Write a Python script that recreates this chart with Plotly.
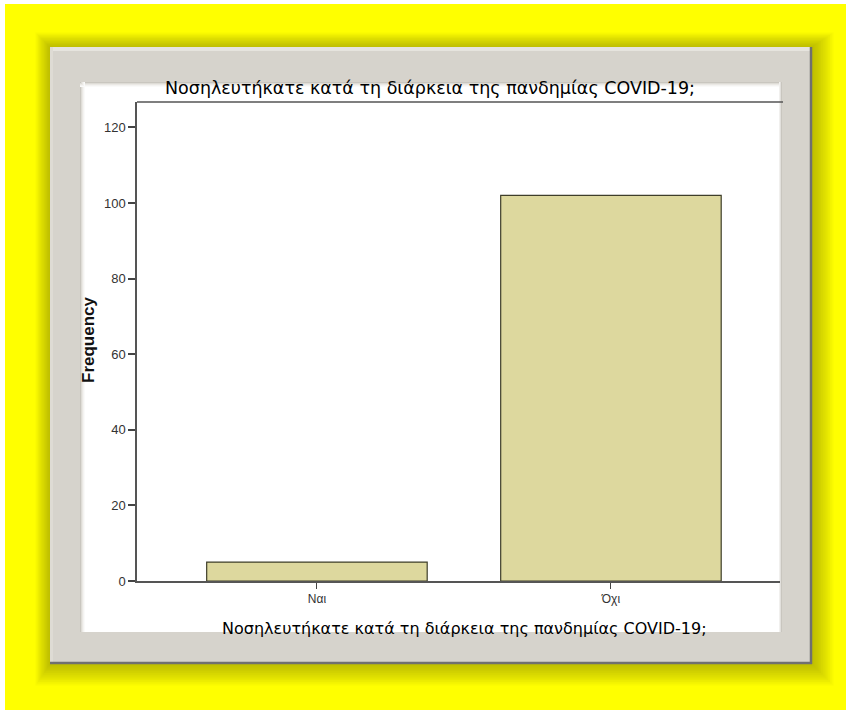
import plotly.graph_objects as go

categories = ["Ναι", "Όχι"]
frequency = [5, 102]
y_ticks = [0, 20, 40, 60, 80, 100, 120]
title_text = "Νοσηλευτήκατε κατά τη διάρκεια της πανδημίας COVID-19;"

W, H = 846, 710
L, R, T, B = 137, 780, 102, 581  # plot area box in page pixels


def px(x):
    return (x - L) / (R - L)


def py(y):
    return (B - y) / (B - T)


def rect(x0, y0, x1, y1, fill, layer="below"):
    return dict(type="rect", xref="paper", yref="paper",
                x0=px(x0), x1=px(x1), y0=py(y1), y1=py(y0),
                fillcolor=fill, layer=layer, line=dict(width=0))


def hline(x0, x1, y, color, w=1, layer="below"):
    return dict(type="line", xref="paper", yref="paper", x0=px(x0), x1=px(x1),
                y0=py(y), y1=py(y), line=dict(color=color, width=w), layer=layer)


def vline(x, y0, y1, color, w=1, layer="below"):
    return dict(type="line", xref="paper", yref="paper", x0=px(x), x1=px(x),
                y0=py(y0), y1=py(y1), line=dict(color=color, width=w), layer=layer)


shapes = []
# yellow page (thin white edge at left/top as in the reference)
shapes.append(rect(5, 4, 860, 720, "#ffff00"))
# soft shadow around the frame
for i in range(12, 0, -1):
    shapes.append(rect(50 - i * 1.2, 47 - i * 1.2, 812 + i * 1.8, 664 + i * 1.8,
                       "rgba(110,110,0,0.04)"))
# frame
shapes.append(rect(50, 47, 812, 664, "#d6d3cc"))
shapes.append(rect(50, 47, 812, 51, "#e6e4de"))
shapes.append(rect(50, 47, 53, 664, "#dedbd4"))
shapes.append(vline(811, 47, 664, "#707070", 2.5))
shapes.append(hline(50, 812, 663, "#707070", 2.5))
# inner white panel
shapes.append(rect(80, 82, 782, 632, "#ffffff"))
for i, c in enumerate(["#c9c6bf", "#dedcd6", "#ebe9e5", "#f4f3f1", "#fafaf9"]):
    shapes.append(rect(80 + i, 82, 81 + i, 632, c))
    shapes.append(rect(80, 82 + i, 782, 83 + i, c))
for i, c in enumerate(["#c9c6bf", "#e2e0dc", "#f1f0ee"]):
    shapes.append(rect(781 - i, 82, 782 - i, 632, c))
# top frame line of plot area
shapes.append(hline(L, 783, T, "#555555", 1.5, layer="above"))

fig = go.Figure()
fig.add_trace(go.Bar(
    x=categories, y=frequency, width=0.75,
    marker=dict(color="#ddd89e", line=dict(color="#3e3e2a", width=1.2)),
    hoverinfo="x+y",
))

font_family = "Liberation Sans, Arial, sans-serif"
title_family = "DejaVu Sans, Verdana, sans-serif"

annotations = [
    dict(text=title_text, xref="paper", yref="paper", x=px(430), y=py(88),
         xanchor="center", yanchor="middle", showarrow=False,
         font=dict(family=title_family, size=17.5, color="#000000")),
    dict(text=title_text, xref="paper", yref="paper", x=px(464.5), y=py(628),
         xanchor="center", yanchor="middle", showarrow=False,
         font=dict(family=title_family, size=16, color="#000000")),
    dict(text="<b>Frequency</b>", xref="paper", yref="paper", x=px(88), y=py(340),
         xanchor="center", yanchor="middle", showarrow=False, textangle=-90,
         font=dict(family=font_family, size=17, color="#111111")),
]

fig.update_layout(
    width=W, height=H,
    margin=dict(l=L, r=W - R, t=T, b=H - B, pad=0),
    paper_bgcolor="#ffffff",
    plot_bgcolor="rgba(0,0,0,0)",
    showlegend=False,
    shapes=shapes,
    annotations=annotations,
    font=dict(family=font_family, size=12, color="#333333"),
    xaxis=dict(
        range=[-0.612, 1.575], showgrid=False, zeroline=False,
        showline=True, linecolor="#555555", linewidth=1.5,
        ticks="outside", ticklen=6, tickcolor="#444444", tickwidth=1.2,
        tickfont=dict(size=12, color="#333333"),
    ),
    yaxis=dict(
        range=[0, 126.7], tickvals=y_ticks, showgrid=False, zeroline=False,
        showline=True, linecolor="#555555", linewidth=1.5,
        ticks="outside", ticklen=7, tickcolor="#444444", tickwidth=1.5,
        tickfont=dict(size=13, color="#333333"),
    ),
)

fig.write_html(
    "out.html",
    config={"displayModeBar": False},
    post_script="document.body.style.margin='0';document.body.style.overflow='hidden';",
)
